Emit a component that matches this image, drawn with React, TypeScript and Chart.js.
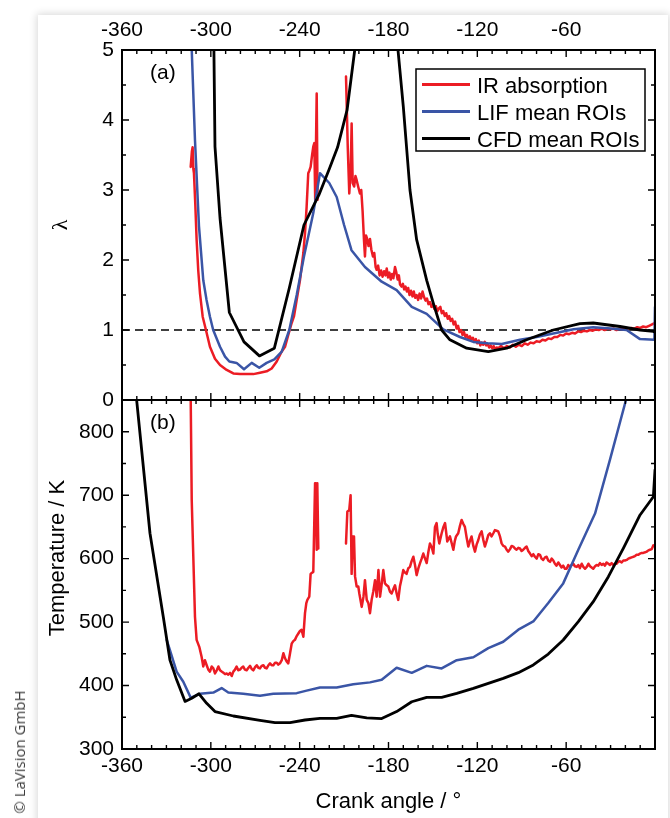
import React, { useEffect, useRef } from "react";
import { Chart, registerables } from "chart.js";

Chart.register(...registerables);

// ---------- axes ----------
const ANGLE_MIN = -360;
const ANGLE_MAX = 0;
const angleTickLabels = [-360, -300, -240, -180, -120, -60];
const LAMBDA_MIN = 0;
const LAMBDA_MAX = 5;
const lambdaTickLabels = [0, 1, 2, 3, 4, 5];
const TEMP_MIN = 300;
const TEMP_MAX = 850;
const tempTickLabels = [300, 400, 500, 600, 700, 800];
const stoichLambda = 1;

const seriesNames = ["IR absorption", "LIF mean ROIs", "CFD mean ROIs"];
const panelTags = ["(a)", "(b)"];
const xTitle = "Crank angle / °";
const lambdaTitle = "λ";
const tempTitle = "Temperature / K";
const copyright = "© LaVision GmbH";

// ---------- panel (a): lambda ----------
const irLambdaSeg1: [number, number][] = [
  [-313.6, 3.33], [-312.8, 3.55], [-312.3, 3.61], [-311.8, 3.3], [-311.4, 3.24], [-310.5, 2.8],
  [-309.6, 2.29], [-308.5, 1.85], [-307.3, 1.52], [-305.5, 1.19], [-303.3, 1.0], [-300.6, 0.76],
  [-297.2, 0.59], [-293.8, 0.5], [-289.3, 0.43], [-284.8, 0.38], [-280.3, 0.37], [-275.8, 0.37],
  [-271.3, 0.37], [-266.8, 0.39], [-262.3, 0.41], [-258.9, 0.45], [-255.5, 0.55], [-252.2, 0.69],
  [-249.9, 0.76], [-247.7, 0.93], [-245.4, 1.1], [-243.8, 1.2], [-242, 1.43], [-239.8, 1.71],
  [-237.5, 2.1], [-236.4, 2.38], [-235.3, 2.76], [-234.2, 3.24], [-233.4, 3.28], [-232.6, 3.33],
  [-231.6, 3.5], [-230.8, 3.62], [-230.1, 3.67], [-229.5, 2.86], [-228.5, 4.38], [-227.9, 2.86],
];
const irLambdaSeg2: [number, number][] = [
  [-208.7, 4.62], [-207.5, 3.6], [-206.5, 2.95], [-205.5, 3.3], [-204.9, 3.95], [-204.2, 3.1],
  [-203.2, 3.05], [-202.3, 3.2], [-201.5, 3.14], [-200.5, 3.05], [-199.3, 2.95], [-198.4, 3.0],
  [-197.5, 2.7], [-196.6, 2.3], [-195.9, 2.05], [-195.2, 2.35], [-194.4, 2.3], [-193.5, 2.2],
  [-192.5, 2.3], [-191.6, 2.15], [-190.5, 2.05], [-189.6, 2.1], [-188.7, 1.9], [-188, 1.86],
  [-187, 1.92], [-186, 1.78], [-185, 1.85], [-184, 1.76], [-183, 1.84], [-182, 1.78],
  [-181.2, 1.88], [-180.3, 1.75], [-179.4, 1.82], [-178.5, 1.72], [-177.6, 1.8], [-176.7, 1.74],
  [-175.6, 1.9], [-174.8, 1.83], [-173.8, 1.72], [-173, 1.78], [-172.2, 1.65], [-171.2, 1.62],
  [-170.3, 1.66], [-169.4, 1.58], [-168.5, 1.62], [-167.6, 1.55], [-166.7, 1.6], [-165.8, 1.5],
  [-164.8, 1.56], [-163.8, 1.48], [-162.9, 1.55], [-162, 1.46], [-161, 1.5], [-160, 1.43],
  [-159, 1.52], [-158, 1.45], [-157, 1.55], [-156, 1.47], [-155, 1.42], [-154, 1.45],
  [-153, 1.37], [-152, 1.4], [-151, 1.33], [-150, 1.37], [-149, 1.3], [-148, 1.34],
  [-147, 1.27], [-146, 1.31], [-145, 1.33], [-144, 1.24], [-143, 1.27], [-142, 1.2],
  [-141, 1.24], [-140, 1.16], [-139, 1.2], [-138, 1.13], [-137, 1.16], [-136, 1.08],
  [-135, 1.12], [-134, 1.02], [-133, 1.06], [-132, 0.97], [-131, 1.0], [-130, 0.93],
  [-129, 0.97], [-128, 0.9], [-127, 0.93], [-126, 0.87], [-125, 0.91], [-124, 0.86],
  [-123, 0.89], [-122, 0.84], [-121, 0.87], [-120, 0.81], [-119, 0.85], [-118, 0.78],
  [-117, 0.82], [-116, 0.79], [-115, 0.83], [-114, 0.78], [-113, 0.8], [-112, 0.75],
  [-111, 0.78], [-110, 0.74], [-109, 0.77], [-108, 0.72], [-107, 0.75], [-106, 0.74],
  [-104, 0.77], [-102, 0.74], [-100, 0.77], [-98, 0.75], [-96, 0.79], [-94, 0.76],
  [-92, 0.79], [-90, 0.77], [-88, 0.81], [-86, 0.79], [-84, 0.82], [-82, 0.81],
  [-80, 0.84], [-78, 0.83], [-76, 0.86], [-74, 0.85], [-72, 0.88], [-70, 0.87],
  [-68, 0.9], [-66, 0.9], [-64, 0.93], [-62, 0.92], [-60, 0.95], [-58, 0.94],
  [-56, 0.96], [-54, 0.95], [-52, 0.98], [-50, 0.97], [-48, 0.99], [-46, 0.98],
  [-44, 1.0], [-42, 0.99], [-40, 1.01], [-38, 1.0], [-36, 1.02], [-34, 1.0],
  [-32, 1.02], [-30, 1.01], [-28, 1.02], [-26, 1.0], [-24, 1.02], [-22, 1.01],
  [-20, 1.03], [-18, 1.02], [-16, 1.03], [-14, 1.02], [-12, 1.04], [-10, 1.03],
  [-8, 1.05], [-6, 1.04], [-4, 1.06], [-2, 1.08], [0, 1.1],
];
const lifLambda: [number, number][] = [
  [-314, 5.65], [-310.7, 3.71], [-308, 2.48], [-305.1, 1.71], [-302.9, 1.43], [-300.6, 1.19],
  [-298.4, 1.0], [-293.8, 0.76], [-290.4, 0.62], [-287.5, 0.55], [-282.6, 0.53], [-277.6, 0.44],
  [-272.4, 0.53], [-267.3, 0.46], [-262.3, 0.53], [-257.1, 0.58], [-252.1, 0.69], [-247, 1.0],
  [-242, 1.5], [-237.1, 2.05], [-230.8, 2.67], [-226.3, 3.24], [-220, 3.1], [-215, 2.9],
  [-210, 2.5], [-205, 2.14], [-195.9, 1.9], [-184.6, 1.69], [-174.5, 1.57], [-164.3, 1.33],
  [-154.2, 1.23], [-143, 1.01], [-131.7, 0.9], [-122.7, 0.83], [-113, 0.81], [-103.5, 0.8],
  [-91.2, 0.86], [-80, 0.9], [-68.7, 0.95], [-55, 1.01], [-41.7, 1.04], [-30, 1.02],
  [-19.2, 1.0], [-10.1, 0.87], [-0.4, 0.86], [0, 1.33],
];
const cfdLambda: [number, number][] = [
  [-300, 9], [-297.2, 3.62], [-293.8, 2.6], [-287.5, 1.25], [-277.6, 0.83], [-267.2, 0.63],
  [-257.1, 0.74], [-247, 1.6], [-237.1, 2.5], [-227, 2.93], [-220, 3.3], [-214.4, 3.61],
  [-208, 4.14], [-202.8, 5.0], [-196, 6.0], [-187, 7.0], [-177, 5.77], [-170, 4.19],
  [-165.5, 3.0], [-161, 2.29], [-154.2, 1.71], [-149.7, 1.38], [-144.1, 1.0], [-138.5, 0.86],
  [-127.2, 0.74], [-112.6, 0.69], [-100.2, 0.74], [-86.7, 0.86], [-68.7, 1.0], [-50.7, 1.09],
  [-41.7, 1.1], [-23.6, 1.05], [-10.1, 1.0], [-1.1, 0.98], [0, 0.97],
];

// ---------- panel (b): temperature ----------
const irTempSeg1: [number, number][] = [
  [-313.8, 900], [-312.9, 692], [-310.7, 508], [-309.6, 472], [-307.8, 461], [-306.2, 445],
  [-305.1, 430], [-304, 440], [-302.8, 432], [-301.7, 425], [-300.6, 422], [-299.4, 430],
  [-298.3, 427], [-297.2, 419], [-296, 424], [-294.9, 430], [-293.8, 424], [-292.7, 422],
  [-291.5, 420], [-290.4, 418], [-289.3, 419], [-288.2, 417], [-287, 420], [-285.9, 415],
  [-284.8, 422], [-283.7, 425], [-282.6, 430], [-281.5, 424], [-280.3, 425], [-279.2, 428],
  [-278.1, 430], [-277, 425], [-275.8, 424], [-274.6, 428], [-273.5, 431], [-272.4, 426],
  [-271.3, 424], [-270.1, 429], [-269, 432], [-267.9, 428], [-266.8, 427], [-265.7, 431],
  [-264.5, 432], [-263.4, 428], [-262.3, 427], [-261.1, 432], [-260, 435], [-258.9, 432],
  [-257.8, 432], [-256.6, 436], [-255.5, 436], [-254.4, 433], [-253.3, 435], [-252.1, 440],
  [-251, 451], [-249.9, 443], [-248.8, 438], [-247.7, 435], [-246.5, 451], [-245.4, 466],
  [-244.3, 470], [-243.2, 472], [-242, 478], [-240.9, 482], [-239.8, 486], [-238.7, 488],
  [-237.5, 477], [-236.4, 514], [-235.5, 530], [-234.8, 535], [-233.5, 540], [-232.6, 576],
  [-231.5, 578], [-230.8, 579], [-229.6, 719], [-229, 713], [-228.5, 614], [-228.1, 719],
  [-227.4, 616],
];
const irTempSeg2: [number, number][] = [
  [-208.7, 624], [-207.8, 674], [-206.5, 677], [-205.6, 700], [-204.9, 576], [-204.2, 635],
  [-203.3, 635], [-202.6, 572], [-201.5, 556], [-200.4, 556], [-199.7, 545], [-198.1, 524],
  [-196.9, 540], [-195.9, 566], [-194.7, 535], [-193.6, 530], [-192.5, 514], [-191.4, 535],
  [-190.3, 548], [-189.1, 566], [-188, 540], [-186.8, 582], [-185.7, 540], [-184.6, 560],
  [-183.5, 582], [-182.4, 561], [-181.2, 558], [-180.1, 556], [-179, 548], [-177.9, 545],
  [-176.7, 552], [-175.6, 558], [-174.5, 545], [-173.4, 535], [-172.3, 556], [-171.2, 568],
  [-170, 582], [-168.9, 578], [-167.8, 576], [-166.6, 585], [-165.5, 587], [-164.4, 596],
  [-163.2, 603], [-162.1, 590], [-161, 574], [-159.8, 585], [-158.7, 593], [-157.6, 600],
  [-156.5, 608], [-155.3, 600], [-154.2, 593], [-153.1, 610], [-152, 624], [-150.8, 618],
  [-149.7, 608], [-148.6, 650], [-147.5, 656], [-146.8, 640], [-145.7, 624], [-144.1, 640],
  [-142.9, 650], [-141.8, 656], [-140.3, 627], [-138.5, 635], [-137.4, 625], [-136.2, 614],
  [-135.2, 628], [-134.4, 635], [-132.9, 640], [-131.7, 652], [-130.6, 661], [-129.5, 655],
  [-128.4, 650], [-127.2, 633], [-126.1, 619], [-125, 628], [-123.9, 635], [-122.7, 620],
  [-121.6, 611], [-120.5, 622], [-119.4, 629], [-118.3, 638], [-117.1, 643], [-116, 630],
  [-114.9, 619], [-113.7, 628], [-112.6, 637], [-111.5, 640], [-110.4, 635], [-109.2, 640],
  [-108.1, 645], [-107, 644], [-105.9, 643], [-104.7, 635], [-103.6, 624], [-102.5, 620],
  [-101.3, 619], [-100.2, 614], [-99.1, 611], [-97.9, 615], [-96.8, 620], [-95.7, 619],
  [-94.6, 616], [-93.5, 614], [-92.3, 617], [-91.2, 616], [-90.1, 612], [-89, 614],
  [-87.8, 617], [-86.7, 619], [-85.6, 612], [-84.4, 608], [-83.3, 604], [-82.2, 607],
  [-81.1, 603], [-79.9, 600], [-78.8, 607], [-77.7, 606], [-76.6, 600], [-75.5, 598],
  [-74.3, 602], [-73.2, 603], [-72.1, 597], [-70.9, 595], [-69.8, 600], [-68.7, 597],
  [-67.6, 592], [-66.5, 589], [-65.3, 594], [-64.2, 590], [-63.1, 586], [-62, 589],
  [-60.8, 584], [-59.7, 584], [-58.6, 590], [-57.5, 587], [-56.3, 590], [-55.2, 592],
  [-54.1, 588], [-52.9, 587], [-51.8, 590], [-50.7, 585], [-49.5, 592], [-48.4, 587],
  [-47.3, 584], [-46.1, 587], [-45, 592], [-43.9, 588], [-42.8, 586], [-41.7, 584],
  [-40.5, 588], [-39.4, 590], [-38.3, 589], [-37.2, 593], [-36, 590], [-34.9, 592],
  [-33.8, 589], [-32.7, 594], [-31.5, 592], [-30.4, 590], [-29.3, 593], [-28.2, 590],
  [-27, 592], [-25.9, 592], [-24.8, 595], [-23.7, 596], [-22.5, 594], [-21.4, 597],
  [-20.3, 597], [-19.1, 598], [-18, 600], [-16.9, 601], [-15.8, 602], [-14.6, 603],
  [-13.5, 604], [-12.4, 606], [-11.2, 606], [-10.1, 608], [-9, 609], [-7.9, 609],
  [-6.7, 610], [-5.6, 611], [-4.5, 613], [-3.4, 614], [-2.2, 615], [-1.1, 621], [0, 619],
];
const lifTemp: [number, number][] = [
  [-329.8, 472], [-323.1, 422], [-318.6, 406], [-313.6, 381], [-307.3, 387], [-298.3, 389],
  [-292.7, 396], [-288.2, 389], [-278.1, 387], [-266.8, 384], [-257.8, 387], [-242, 388],
  [-235.3, 392], [-226.3, 397], [-215, 397], [-203.8, 402], [-192.5, 405], [-184.6, 409],
  [-174.5, 428], [-164.3, 420], [-154.2, 431], [-144.1, 427], [-133.9, 440], [-122.7, 444.5],
  [-112.6, 459], [-102.5, 469], [-92.3, 488], [-82.2, 501], [-72.1, 530], [-62, 561],
  [-51.8, 614], [-40.5, 671], [-30.4, 756], [-19.6, 850], [-15, 900],
];
const cfdTemp: [number, number][] = [
  [-352, 894], [-341.1, 640], [-332.1, 508], [-327.6, 440], [-323.1, 409], [-317.4, 375],
  [-312.9, 380], [-308, 387], [-302.8, 372], [-297.2, 359], [-284.8, 352], [-266.8, 345],
  [-256.7, 341.5], [-246.5, 341.5], [-236.4, 345.7], [-226.3, 348.3], [-215, 348.3], [-205, 353],
  [-194.7, 349], [-184.6, 348], [-174.5, 359], [-164.3, 374.5], [-154.2, 381.5], [-144.1, 381.5],
  [-133.9, 387.7], [-122.7, 395.6], [-112.6, 403.5], [-102.5, 411.3], [-92.3, 420.3], [-82.2, 432.4],
  [-72.1, 449.7], [-62, 471.8], [-51.8, 500.6], [-41.7, 532.2], [-31.5, 571.6], [-21.4, 616.3],
  [-10.1, 668.8], [-1.1, 697.6], [0, 740],
];

// ---------- styling ----------
const RED = "#ec1c24";
const BLUE = "#3a55a6";
const BLACK = "#000000";
const FONT = '"Liberation Sans", Arial, sans-serif';
const TICK_FONT = { family: FONT, size: 21 };

const pts = (arr: [number, number][]) => arr.map(([x, y]) => ({ x, y }));
const gapped = (a: [number, number][], b: [number, number][]) => [
  ...pts(a),
  { x: (a[a.length - 1][0] + b[0][0]) / 2, y: null as any },
  ...pts(b),
];

function xScale(position: "top" | "bottom", height: number, pad: number) {
  return {
    type: "linear",
    position,
    min: ANGLE_MIN,
    max: ANGLE_MAX,
    grid: { display: false, drawTicks: false },
    border: { display: false },
    ticks: {
      font: TICK_FONT,
      color: "#000",
      padding: pad,
      autoSkip: false,
      maxRotation: 0,
      callback: (v: any) => String(v),
    },
    afterBuildTicks: (s: any) => {
      s.ticks = angleTickLabels.map((v) => ({ value: v }));
    },
    afterFit: (s: any) => {
      s.height = height;
      s.paddingLeft = 0;
      s.paddingRight = 0;
    },
  };
}

function yScale(min: number, max: number, labels: number[]) {
  return {
    type: "linear",
    position: "left",
    min,
    max,
    grid: { display: false, drawTicks: false },
    border: { display: false },
    ticks: {
      font: TICK_FONT,
      color: "#000",
      padding: 8,
      autoSkip: false,
      callback: (v: any) => String(v),
    },
    afterBuildTicks: (s: any) => {
      s.ticks = labels.map((v) => ({ value: v }));
    },
    afterFit: (s: any) => {
      s.width = 122;
      s.paddingTop = 0;
      s.paddingBottom = 0;
    },
  };
}

type PanelCfg = {
  id: string;
  yMinor: number;
  yMajorEvery: number;
  tag: string;
  yTitle: string;
  yTitleFont: string;
  yTitleX: number;
  yTitleY: (a: any) => number;
  xTitleY?: number;
  legend?: boolean;
};

function panelPlugin(cfg: PanelCfg) {
  return {
    id: cfg.id,
    afterDraw(chart: any) {
      const { ctx, chartArea: a } = chart;
      const xs = chart.scales.x;
      const ys = chart.scales.y;
      ctx.save();
      ctx.strokeStyle = "#000";
      ctx.lineWidth = 1.4;
      ctx.beginPath();
      for (let i = 0; i <= 36; i++) {
        const v = ANGLE_MIN + i * 10;
        const px = xs.getPixelForValue(v);
        const len = i % 6 === 0 ? 7 : 4;
        ctx.moveTo(px, a.top);
        ctx.lineTo(px, a.top + len);
        ctx.moveTo(px, a.bottom);
        ctx.lineTo(px, a.bottom - len);
      }
      const n = Math.round((ys.max - ys.min) / cfg.yMinor);
      for (let i = 0; i <= n; i++) {
        const v = ys.min + i * cfg.yMinor;
        const py = ys.getPixelForValue(v);
        const len = i % cfg.yMajorEvery === 0 ? 7 : 4;
        ctx.moveTo(a.left, py);
        ctx.lineTo(a.left + len, py);
        ctx.moveTo(a.right, py);
        ctx.lineTo(a.right - len, py);
      }
      ctx.stroke();
      ctx.lineWidth = 2;
      ctx.strokeRect(a.left, a.top, a.right - a.left, a.bottom - a.top);

      ctx.fillStyle = "#000";
      ctx.font = `21px ${FONT}`;
      ctx.textAlign = "left";
      ctx.textBaseline = "middle";
      ctx.fillText(cfg.tag, 150, a.top + 23.5);

      ctx.save();
      ctx.translate(cfg.yTitleX, cfg.yTitleY(a));
      ctx.rotate(-Math.PI / 2);
      ctx.textAlign = "center";
      ctx.textBaseline = "middle";
      ctx.font = cfg.yTitleFont;
      ctx.fillText(cfg.yTitle, 0, 0);
      ctx.restore();

      if (cfg.xTitleY !== undefined) {
        ctx.font = `22px ${FONT}`;
        ctx.textAlign = "center";
        ctx.textBaseline = "alphabetic";
        ctx.fillText(xTitle, (a.left + a.right) / 2, cfg.xTitleY);
      }

      if (cfg.legend) {
        const box = { left: a.right - 239, top: a.top + 19, w: 229, h: 82 };
        ctx.fillStyle = "#fff";
        ctx.fillRect(box.left, box.top, box.w, box.h);
        ctx.lineWidth = 1.5;
        ctx.strokeRect(box.left, box.top, box.w, box.h);
        const items = chart.data.datasets.filter((d: any) => seriesNames.includes(d.label));
        items.forEach((d: any, i: number) => {
          const y = box.top + 15.5 + i * 27;
          ctx.strokeStyle = d.borderColor;
          ctx.lineWidth = 3;
          ctx.beginPath();
          ctx.moveTo(box.left + 6, y);
          ctx.lineTo(box.left + 54, y);
          ctx.stroke();
          ctx.fillStyle = "#000";
          ctx.font = `22px ${FONT}`;
          ctx.textAlign = "left";
          ctx.textBaseline = "alphabetic";
          ctx.fillText(d.label, box.left + 61, y + 8);
        });
      }
      ctx.restore();
    },
  };
}

function lineDs(label: string, data: any[], color: string, width: number, order: number) {
  return {
    label,
    data,
    borderColor: color,
    backgroundColor: color,
    borderWidth: width,
    pointRadius: 0,
    pointHoverRadius: 0,
    spanGaps: false,
    tension: 0,
    fill: false,
    order,
    clip: 0,
    borderJoinStyle: "round",
    borderCapStyle: "round",
  };
}

export default function App() {
  const refA = useRef<HTMLCanvasElement>(null);
  const refB = useRef<HTMLCanvasElement>(null);

  useEffect(() => {
    const chartA = new Chart(refA.current as HTMLCanvasElement, {
      type: "line",
      data: {
        datasets: [
          lineDs(seriesNames[0], gapped(irLambdaSeg1, irLambdaSeg2), RED, 2.5, 3),
          lineDs(seriesNames[1], pts(lifLambda), BLUE, 2.5, 2),
          lineDs(seriesNames[2], pts(cfdLambda), BLACK, 2.8, 1),
          {
            ...lineDs("λ = 1", [
              { x: ANGLE_MIN, y: stoichLambda },
              { x: ANGLE_MAX, y: stoichLambda },
            ], BLACK, 1.6, 4),
            borderDash: [8, 5],
            borderCapStyle: "butt",
          },
        ] as any,
      },
      options: {
        animation: false,
        responsive: false,
        events: [],
        layout: { padding: { left: 0, right: 15, top: 0, bottom: 20 } },
        plugins: { legend: { display: false }, tooltip: { enabled: false } },
        scales: {
          x: xScale("top", 50, 7) as any,
          y: yScale(LAMBDA_MIN, LAMBDA_MAX, lambdaTickLabels) as any,
        },
      },
      plugins: [
        panelPlugin({
          id: "panelA",
          yMinor: 0.5,
          yMajorEvery: 2,
          tag: panelTags[0],
          yTitle: lambdaTitle,
          yTitleFont: '22px "Liberation Serif", serif',
          yTitleX: 61,
          yTitleY: (a: any) => (a.top + a.bottom) / 2,
          legend: true,
        }),
      ],
    });

    const chartB = new Chart(refB.current as HTMLCanvasElement, {
      type: "line",
      data: {
        datasets: [
          lineDs(seriesNames[0], gapped(irTempSeg1, irTempSeg2), RED, 2.5, 3),
          lineDs(seriesNames[1], pts(lifTemp), BLUE, 2.5, 2),
          lineDs(seriesNames[2], pts(cfdTemp), BLACK, 2.8, 1),
        ] as any,
      },
      options: {
        animation: false,
        responsive: false,
        events: [],
        layout: { padding: { left: 0, right: 15, top: 20, bottom: 0 } },
        plugins: { legend: { display: false }, tooltip: { enabled: false } },
        scales: {
          x: xScale("bottom", 69, 5) as any,
          y: yScale(TEMP_MIN, TEMP_MAX, tempTickLabels) as any,
        },
      },
      plugins: [
        panelPlugin({
          id: "panelB",
          yMinor: 50,
          yMajorEvery: 2,
          tag: panelTags[1],
          yTitle: tempTitle,
          yTitleFont: `22px ${FONT}`,
          yTitleX: 58,
          yTitleY: () => 178,
          xTitleY: 428,
        }),
      ],
    });

    return () => {
      chartA.destroy();
      chartB.destroy();
    };
  }, []);

  return (
    <div
      style={{
        position: "fixed",
        left: 0,
        top: 0,
        width: 670,
        height: 818,
        background: "#fff",
        overflow: "hidden",
      }}
    >
      <div
        style={{
          position: "absolute",
          left: 38,
          top: 15,
          width: 630,
          height: 830,
          background: "#fff",
          boxShadow: "0 0 8px 1px rgba(0,0,0,0.16)",
        }}
      />
      <canvas
        ref={refA}
        width={670}
        height={420}
        style={{ position: "absolute", left: 0, top: 0 }}
      />
      <canvas
        ref={refB}
        width={670}
        height={438}
        style={{ position: "absolute", left: 0, top: 380 }}
      />
      <div
        style={{
          position: "absolute",
          left: 19,
          top: 752,
          transform: "translate(-50%, -50%) rotate(-90deg)",
          font: '15px "Open Sans", sans-serif',
          color: "#3c3c3c",
          whiteSpace: "nowrap",
        }}
      >
        {copyright}
      </div>
    </div>
  );
}
